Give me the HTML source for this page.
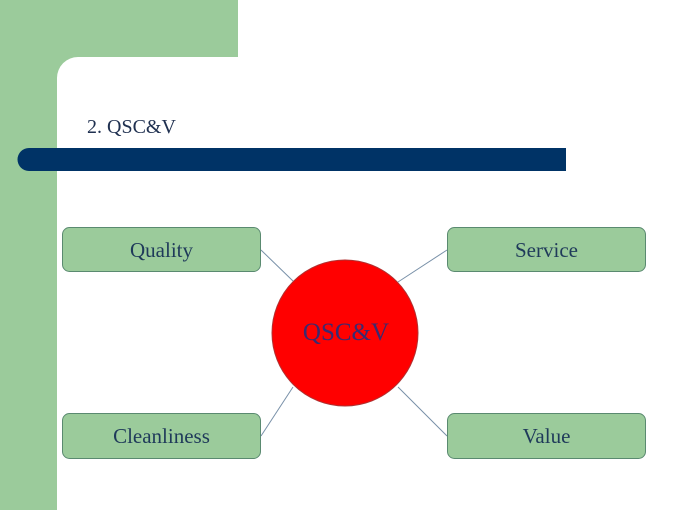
<!DOCTYPE html>
<html><head><style>
html,body{margin:0;padding:0;background:#fff;}
</style></head><body>
<svg width="680" height="510" xmlns="http://www.w3.org/2000/svg" style="display:block">
<rect x="0" y="0" width="680" height="510" fill="#fff"/>
<rect x="0" y="0" width="238" height="57" fill="#9bcb9b"/>
<rect x="0" y="0" width="57" height="510" fill="#9bcb9b"/>
<path d="M57 57 H78 A21 21 0 0 0 57 78 Z" fill="#9bcb9b"/>
<path d="M29 148 H566 V171 H29 A11.5 11.5 0 0 1 29 148 Z" fill="#003366"/>
<text x="87" y="133" font-family="Liberation Serif, serif" font-size="20" fill="#1f3050">2. QSC&amp;V</text>
<g stroke="#7890a8" stroke-width="1">
<line x1="261" y1="250" x2="293" y2="281"/>
<line x1="447" y1="250" x2="398" y2="282"/>
<line x1="261" y1="436" x2="293" y2="387"/>
<line x1="447" y1="436" x2="398" y2="387"/>
</g>
<g fill="#9bcb9b" stroke="#5a8a70" stroke-width="1">
<rect x="62.5" y="227.5" width="198" height="44" rx="7"/>
<rect x="447.5" y="227.5" width="198" height="44" rx="7"/>
<rect x="62.5" y="413.5" width="198" height="45" rx="7"/>
<rect x="447.5" y="413.5" width="198" height="45" rx="7"/>
</g>
<circle cx="345" cy="333" r="73" fill="#ff0000" stroke="#b03030" stroke-width="1"/>
<g font-family="Liberation Serif, serif" font-size="21" fill="#1f3a5a" text-anchor="middle">
<text x="161.5" y="257">Quality</text>
<text x="546.5" y="257">Service</text>
<text x="161.5" y="443">Cleanliness</text>
<text x="546.5" y="443">Value</text>
<text x="346" y="340" font-size="25" fill="#3a2a70">QSC&amp;V</text>
</g>
</svg>
</body></html>
